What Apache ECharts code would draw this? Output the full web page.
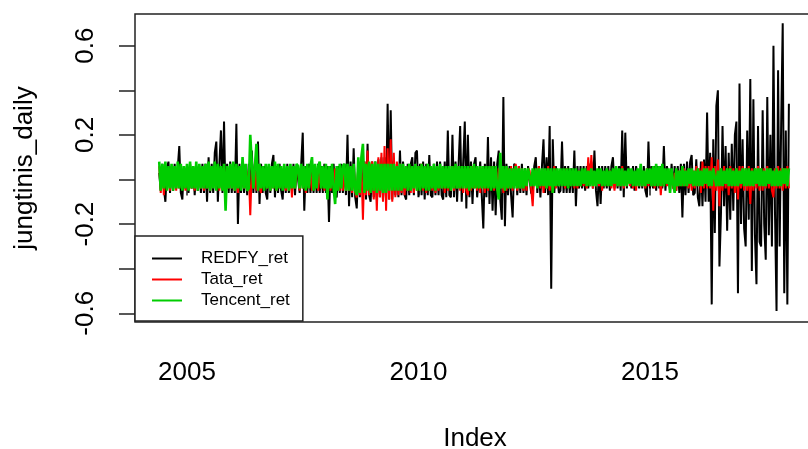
<!DOCTYPE html>
<html>
<head>
<meta charset="utf-8">
<script src="https://cdn.jsdelivr.net/npm/echarts@6/dist/echarts.min.js"></script>
<style>
  html, body { margin: 0; padding: 0; background: #fff; overflow: hidden; }
  #chart { width: 830px; height: 449px; }
</style>
</head>
<body>
<div id="chart"></div>
<script>
// Daily returns in percent, one value every 1/30 of a year starting at 2004.4
const firstYear = 2004.4;
const stepsPerYear = 30;

const redfyRet = [
  3,-5,7,-4,-10,5,8,-6,6,-5, 7,-4,5,15,-6,-9,6,-4,6,-6, 7,-4,5,-7,6,-5,6,-6,7,-6,
  7,-10,10,-6,7,-6,12,17,-10,7, 22,-6,26,-10,7,-6,8,-6,7,-6, 25,-20,7,-6,7,-6,6,-7,7,-6,
  13,-6,7,-6,17,-11,7,-6,6,-6, -9,6,-6,7,11,-8,6,-6,7,-5, -9,6,-6,7,-6,6,-6,7,-7,6,
  6,-6,7,21,-14,6,-6,7,-6,7, -6,6,-6,7,-6,6,-6,7,-6,6, -19,6,-6,7,-6,-8,6,-6,7,-6,
  7,-7,20,-12,8,-8,14,-8,-13,8, -8,8,-8,8,-9,16,-7,-10,8,-8, 8,-9,9,-8,10,-9,10,-9,34,-9,
  31,-9,8,-7,7,-8,13,-7,8,-7, -9,7,-7,7,10,-7,12,13,-8,7, -7,8,-9,7,-7,11,-7,-8,7,-7,
  8,-7,8,-7,-9,8,-8,22,-7,-8, 20,-8,8,-10,7,24,-10,8,26,-13, 20,-8,8,-11,7,10,-8,-8,8,-7,
  -22,7,-8,19,-11,10,-14,8,-16,7, 13,-9,-18,37,-21,7,-7,6,-7,-17, 7,6,-7,6,-6,7,-6,5,-7,6,
  6,-6,-7,6,10,-6,6,-8,6,18, -6,10,-7,24,-49,18,-6,6,6,-6, -5,17,-6,6,-6,6,-6,5,-6,13,
  -12,6,-4,6,-4,6,-5,6,-4,6, 8,-4,13,-5,-12,6,-11,6,-4,6, -4,6,-5,6,10,-4,6,-4,6,-5,
  22,-8,21,-4,6,6,-4,6,-5,6, 6,-4,6,-4,6,-5,-8,17,-4,6, -4,6,-5,6,-4,6,-4,15,-5,6,
  6,-5,7,-4,6,-5,6,-6,7,-17, 7,-7,8,-6,8,11,-7,-6,9,-8, -12,8,-12,9,-10,30,-10,12,-56,18,
  -24,33,40,-39,-15,24,-12,15,-23,12, -18,16,-14,20,26,-51,43,-20,18,-22, -30,22,-18,45,-41,36,-25,-47,24,-28,
  -30,31,-20,-36,37,-25,20,-30,60,-15, -59,49,-30,25,70,-51,22,-56,34
];

const tataRet = [
  6,-6,5,-7,4,-4,5,-5,4,-4, 3,-5,4,-4,5,-4,3,-5,4,-3, 5,-4,4,-5,3,-4,5,-4,4,-5,
  4,-4,5,-5,4,-3,5,-4,4,-5, 5,-4,6,-5,4,-4,5,-4,4,-5, 5,-6,4,-4,5,-4,6,-5,4,-16,
  5,-4,4,-5,5,-4,-6,4,-4,5, -4,4,-5,4,-4,5,-5,4,-4,5, -4,4,-5,4,-5,5,-8,4,-4,5,
  4,-5,5,-4,4,-6,5,-4,4,-5, 5,-4,4,-5,5,-4,5,-5,4,-4, 5,-5,4,-4,5,-4,4,-5,5,-5,
  5,-5,6,-5,5,-6,6,-6,-8,6, -7,7,-18,8,-7,13,-7,6,8,-9, 7,-14,10,-8,12,-10,15,-14,14,-9,
  18,-10,12,-8,8,-7,7,-6,6,-7, 6,-5,6,-6,5,-6,5,-5,6,-5, 7,-5,5,-6,5,-5,6,-5,5,-6,
  5,-5,6,-4,5,-6,5,-5,4,-5, 6,-5,5,-4,6,-5,5,-6,4,-5, -7,5,-5,6,-4,5,-5,4,-6,5,
  5,-6,4,-5,5,-4,6,-5,4,-5, 5,-4,5,-6,4,-5,5,-4,6,-5, 4,7,-5,6,-4,5,-5,4,-5,5,
  4,-4,-12,3,4,-3,6,-4,4,-6, 3,-4,6,-5,4,-6,6,-4,4,-3, 4,-3,3,-4,5,-3,4,-3,3,-4,
  3,-4,4,-3,4,-3,3,-4,10,-3, 11,-4,3,-3,4,-3,4,-5,3,-3, 4,-3,4,-4,3,-5,4,-3,4,-3,
  6,-4,3,-3,4,-3,4,-4,3,-5, 4,-3,4,-3,3,-4,5,-3,4,-3, 3,-4,4,-3,4,-7,3,-3,4,-3,
  4,-3,4,-4,3,-5,4,-3,4,-3, 5,-3,4,-4,3,-5,4,-4,6,-3, 5,-6,8,-4,6,-4,6,-4,10,-14,
  6,-5,9,-12,5,-5,6,-4,5,-7, 6,-4,5,-6,5,-9,6,-4,6,-5, 5,-5,6,-11,5,-5,5,-4,6,-5,
  5,-5,5,-4,6,-4,5,-5,-8,5, -4,6,-4,5,-5,5,-4,6,-4
];

const tencentRet = [
  8,-5,7,-4,8,-5,6,-4,7,-5, 6,-4,8,-4,7,-5,6,-4,7,-5, 8,-4,6,-4,8,-5,7,-4,6,-4,
  7,-4,8,-5,6,-4,8,-5,7,-4, 6,-5,7,-14,6,-4,7,-4,8,-5, 7,-4,6,-5,10,-4,7,-5,-4,20,
  7,-4,6,16,-5,7,-4,6,-5,7, -4,7,-5,6,-4,8,-5,7,-4,6, -5,7,-4,6,-5,7,-4,6,-4,7,
  6,-4,7,-4,6,-5,7,-4,6,10, -5,7,-4,6,8,-4,6,-4,7,-9, 6,-4,7,-4,-11,6,-5,7,-4,6,
  7,-5,7,-5,6,-5,7,-5,-7,10, -6,10,16,-6,7,-5,8,-6,7,-5, 8,-6,7,-5,7,-6,7,-6,7,-5,
  7,-5,7,-5,6,-5,7,-5,7,-4, 6,-5,7,-5,6,-4,7,-5,6,-5, 7,-4,6,-5,7,-5,6,-4,7,-5,
  6,-4,7,-4,6,-4,6,-4,6,-5, 6,-4,7,-4,6,-4,6,-4,6,-4, 6,-5,6,-4,7,-4,6,-4,6,-4,
  6,-4,6,-4,6,-5,6,-4,6,-4, -9,12,-4,6,-5,6,-4,5,-4,5, -4,6,-4,5,-4,5,-4,5,-3,5,
  5,-3,5,-3,5,-4,5,-3,5,-3, 5,-4,5,-3,5,-6,5,-3,5,-3, 5,-3,5,-3,5,-4,5,-3,5,-3,
  5,-3,4,-3,5,-2,5,-3,4,-3, 5,-3,4,-3,5,-2,5,-3,4,-3, 5,-3,4,-3,5,-2,6,-3,5,-3,
  5,-3,4,-3,5,-2,5,-3,4,-3, 5,-3,7,-3,4,-3,5,-2,5,-3, 6,-3,7,-3,6,-3,7,-3,5,-2,
  5,-6,5,-2,-6,5,-3,4,-3,6, -3,4,-3,5,-2,5,-3,4,-3,5, -3,4,-3,5,-2,5,-3,4,-3,5,
  5,-3,4,-3,5,-3,4,-2,5,-3, 5,-3,4,-3,5,-3,4,-2,5,-3, 5,-3,5,-3,4,-3,5,-2,5,-3,
  5,-3,4,-3,5,-2,5,-3,4,-3, 5,-3,4,-3,5,-2,5,-3,5
];

const seriesNames = ['REDFY_ret', 'Tata_ret', 'Tencent_ret'];
const seriesColors = ['#000000', '#FF0000', '#00CD00'];
const seriesWidths = [2, 2, 2.6];
const seriesValues = [redfyRet, tataRet, tencentRet];

const xTicks = [2005, 2010, 2015];
const yTicks = [-0.6, -0.4, -0.2, 0, 0.2, 0.4, 0.6];
const yLabels = [-0.6, -0.2, 0.2, 0.6];

// pair each return with its date (decimal year), converting percent to fraction
function toPairs(values) {
  return values.map((v, i) => [firstYear + i / stepsPerYear, v / 100]);
}

const font = 'Liberation Sans, Arial, sans-serif';
const chart = echarts.init(document.getElementById('chart'), null, { renderer: 'canvas' });

chart.setOption({
  animation: false,
  backgroundColor: '#fff',
  grid: {
    left: 135, top: 14, width: 680, height: 308,
    outerBoundsMode: 'none',
    containLabel: false,
    show: true, borderColor: '#222', borderWidth: 1.5, backgroundColor: 'transparent'
  },
  legend: {
    orient: 'vertical', left: 135, top: 236,
    icon: 'rect', itemWidth: 30, itemHeight: 2, itemGap: 0,
    padding: [12, 13, 10, 17],
    backgroundColor: '#fff', borderColor: '#222', borderWidth: 1.5,
    selectedMode: false,
    textStyle: { fontSize: 17, fontFamily: font, color: '#000', lineHeight: 21, padding: [0, 0, 0, 14] },
    data: seriesNames
  },
  xAxis: {
    type: 'value', min: 2003.877, max: 2018.564,
    axisLine: { show: false },
    splitLine: { show: false },
    axisTick: { show: true, customValues: xTicks, length: 16, lineStyle: { color: '#222', width: 1.5 } },
    axisLabel: {
      customValues: xTicks, margin: 38, fontSize: 26, fontFamily: font, color: '#000',
      formatter: v => String(v)
    },
    name: 'Index', nameLocation: 'middle', nameGap: 104,
    nameTextStyle: { fontSize: 26, fontFamily: font, color: '#000' }
  },
  yAxis: {
    type: 'value', min: -0.639, max: 0.742,
    axisLine: { show: false },
    splitLine: { show: false },
    axisTick: { show: true, customValues: yTicks, length: 16, lineStyle: { color: '#222', width: 1.5 } },
    axisLabel: {
      customValues: yLabels, rotate: 90, margin: 36, fontSize: 26, fontFamily: font, color: '#000',
      formatter: v => v.toFixed(1)
    },
    name: 'jungtinis_daily', nameLocation: 'middle', nameRotate: 90, nameGap: 97,
    nameTextStyle: { fontSize: 26, fontFamily: font, color: '#000' }
  },
  series: seriesNames.map((name, k) => ({
    name: name,
    type: 'line',
    data: toPairs(seriesValues[k]),
    showSymbol: false,
    symbol: 'none',
    sampling: null,
    silent: true,
    color: seriesColors[k],
    itemStyle: { color: seriesColors[k] },
    lineStyle: { color: seriesColors[k], width: seriesWidths[k] }
  }))
});
</script>
</body>
</html>
